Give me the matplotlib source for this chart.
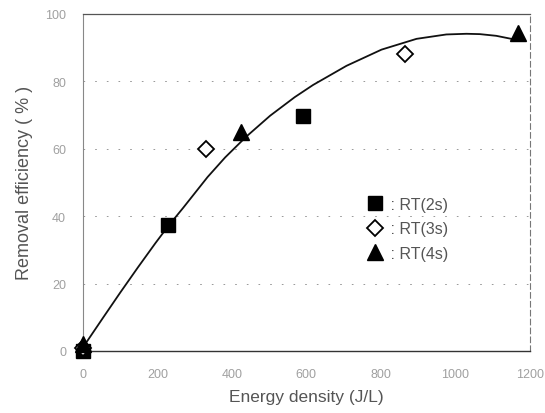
import numpy as np
import matplotlib
matplotlib.use("Agg")
from matplotlib import pyplot as plt

plt.rcParams['font.family'] = ['Liberation Sans', 'DejaVu Sans']

# data
rt2_x = [0, 229, 590]
rt2_y = [0, 37.4, 69.8]
rt3_x = [0, 332, 864]
rt3_y = [1, 59.8, 88.2]
rt4_x = [0, 426, 1168]
rt4_y = [2, 65, 94.2]

# fitted curve, traced
fit_x = [5, 54, 101, 148, 195, 229, 269, 335, 382, 438, 503, 569, 618,
         708, 802, 896, 976, 1030, 1066, 1110, 1155, 1168]
fit_y = [1.8, 9.8, 17.4, 24.8, 32.0, 37.0, 42.4, 51.6, 57.4, 63.5, 69.8,
         75.3, 78.9, 84.6, 89.4, 92.6, 93.9, 94.1, 94.0, 93.5, 92.5, 92.7]

xticks = [0, 200, 400, 600, 800, 1000, 1200]
yticks = [0, 20, 40, 60, 80, 100]

fig = plt.figure(figsize=(5.45, 4.14), dpi=100)
ax = fig.add_axes([0.152, 0.150, 0.820, 0.814])

for yv in yticks[1:-1]:
    ax.axhline(yv, color='#888888', lw=0.6, ls=(0, (2, 12)), zorder=0)

ax.plot(fit_x, fit_y, color='#111111', lw=1.3, zorder=2)

ax.plot(rt2_x, rt2_y, 's', ms=10.5, color='black', ls='none', clip_on=False, zorder=3, label=' : RT(2s)')
ax.plot(rt3_x, rt3_y, 'D', ms=8, mfc='white', mec='black', mew=1.3, ls='none', clip_on=False, zorder=3, label=' : RT(3s)')
ax.plot(rt4_x, rt4_y, '^', ms=11, color='black', ls='none', clip_on=False, zorder=4, label=' : RT(4s)')

ax.set_xlim(0, 1200)
ax.set_ylim(0, 100)
ax.set_xticks(xticks)
ax.set_yticks(yticks)
ax.tick_params(length=0, labelsize=9, labelcolor='#a0a0a0', pad=12)

ax.spines['bottom'].set_color('#333333')
ax.spines['bottom'].set_linewidth(1.0)
ax.spines['left'].set_color('#888888')
ax.spines['left'].set_linewidth(0.8)
ax.spines['left'].set_linestyle((0, (6, 1)))
ax.spines['top'].set_color('#555555')
ax.spines['top'].set_linewidth(0.9)
ax.spines['right'].set_color('#777777')
ax.spines['right'].set_linestyle((0, (5, 3)))

ax.set_xlabel('Energy density (J/L)', fontsize=12.5, color='#555555', labelpad=7)
ax.set_ylabel('Removal efficiency ( % )', fontsize=13, color='#555555', labelpad=9)

leg = ax.legend(loc='upper left', bbox_to_anchor=(0.6, 0.50), frameon=False,
                fontsize=11.5, handletextpad=0.1, labelspacing=0.6, handlelength=1.2)
for t in leg.get_texts():
    t.set_color('#555555')

fig.savefig('out.png', dpi=100)
